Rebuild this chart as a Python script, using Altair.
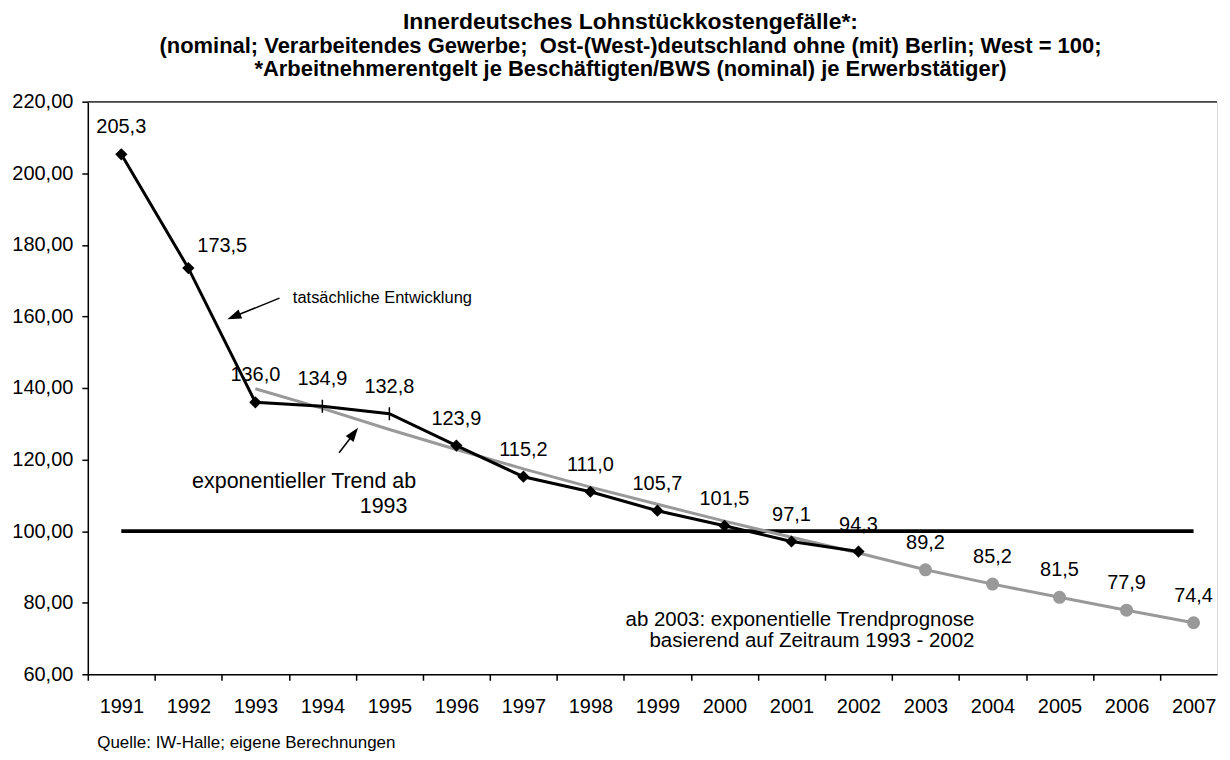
import altair as alt
import pandas as pd

FONT = "Liberation Sans"

# ---- data ----
years_actual = [1991, 1992, 1993, 1994, 1995, 1996, 1997, 1998, 1999, 2000, 2001, 2002]
values_actual = [205.3, 173.5, 136.0, 134.9, 132.8, 123.9, 115.2, 111.0, 105.7, 101.5, 97.1, 94.3]

years_trend = [1993, 1994, 1995, 1996, 1997, 1998, 1999, 2000, 2001, 2002, 2003, 2004, 2005, 2006, 2007]
values_trend = [139.8, 134.3, 128.4, 122.8, 117.4, 112.3, 107.5, 102.8, 98.3, 93.9, 89.2, 85.2, 81.5, 77.9, 74.4]

years_forecast = [2003, 2004, 2005, 2006, 2007]
values_forecast = [89.2, 85.2, 81.5, 77.9, 74.4]

years_ref = [1991, 2007]
values_ref = [100, 100]

tick_years = [1994, 1995]  # years drawn with a small vertical tick instead of a diamond

title_text = "Innerdeutsches Lohnstückkostengefälle*:"
subtitle_lines = [
    "(nominal; Verarbeitendes Gewerbe;\u00a0 Ost-(West-)deutschland ohne (mit) Berlin; West = 100;",
    "*Arbeitnehmerentgelt je Beschäftigten/BWS (nominal) je Erwerbstätiger)",
]
source_text = "Quelle: IW-Halle; eigene Berechnungen"

# annotations (year position, value position, text)
ann_small = pd.DataFrame({"year": [1993.56], "value": [165.1], "text": ["tatsächliche Entwicklung"]})
ann_trend = pd.DataFrame({"year": [1995.40, 1995.27], "value": [112.1, 105.2],
                          "text": ["exponentieller Trend ab", "1993"]})
ann_forecast = pd.DataFrame({"year": [2003.73, 2003.73], "value": [73.5, 67.5],
                             "text": ["ab 2003: exponentielle Trendprognose",
                                      "basierend auf Zeitraum 1993 - 2002"]})
arrows = pd.DataFrame({
    "x0": [1993.36, 1994.25], "y0": [165.1, 121.9],
    "x1": [1992.68, 1994.47], "y1": [159.96, 127.3],
    "angle": [248, 37],
})

# ---- tables ----
df_actual = pd.DataFrame({"year": years_actual, "value": values_actual})
df_trend = pd.DataFrame({"year": years_trend, "value": values_trend})
df_fc = pd.DataFrame({"year": years_forecast, "value": values_forecast})
df_ref = pd.DataFrame({"year": years_ref, "value": values_ref})

W, H = 1132, 574

tick_vals = [1990.5 + 0.5 * i for i in range(34)]
x_axis = alt.Axis(
    values=tick_vals,
    labelExpr="datum.value % 1 == 0 ? format(datum.value, 'd') : ''",
    tickOpacity={"condition": {"test": "datum.value % 1 == 0", "value": 0}, "value": 1},
    tickSize=6, tickColor="black", tickWidth=1.5,
    domainColor="black", domainWidth=1.5,
    labelFont=FONT, labelFontSize=20, labelColor="black", labelPadding=16,
    labelOverlap=False, labelFlush=False, grid=False,
    title=source_text, titleFont=FONT, titleFontSize=17, titleFontWeight="normal",
    titleColor="black", titleAnchor="start", titleAlign="left", titleBaseline="alphabetic",
    titleX=9, titleY=73,
)
y_axis = alt.Axis(
    values=[60, 80, 100, 120, 140, 160, 180, 200, 220],
    labelExpr="replace(format(datum.value, '.2f'), '.', ',')",
    tickSize=6, tickColor="black", tickWidth=1.5,
    domainColor="black", domainWidth=1.5,
    labelFont=FONT, labelFontSize=20, labelColor="black", labelPadding=9,
    grid=False, title=None,
)
x_scale = alt.Scale(domain=[1990.5, 2007.35], nice=False, zero=False)
y_scale = alt.Scale(domain=[60, 220], nice=False, zero=False)

X = alt.X("year:Q", scale=x_scale, axis=x_axis)
Y = alt.Y("value:Q", scale=y_scale, axis=y_axis)

label_expr = "replace(format(datum.value, '.1f'), '.', ',')"

top_border = alt.Chart(df_ref).mark_rule(color="#444444", strokeWidth=1.5).encode(y=alt.datum(220))

ref_line = alt.Chart(df_ref).mark_line(color="black", strokeWidth=4).encode(x=X, y=Y)

trend_line = alt.Chart(df_trend).mark_line(color="#999999", strokeWidth=3).encode(x=X, y=Y)

actual_line = alt.Chart(df_actual).mark_line(color="black", strokeWidth=3).encode(x=X, y=Y)

diamonds = alt.Chart(df_actual).transform_filter(
    ~alt.FieldOneOfPredicate(field="year", oneOf=tick_years)
).mark_point(shape="diamond", filled=True, color="black", size=150, opacity=1).encode(x=X, y=Y)

ticks = alt.Chart(df_actual).transform_filter(
    alt.FieldOneOfPredicate(field="year", oneOf=tick_years)
).mark_point(shape="M0,-1L0,1", filled=False, stroke="black", strokeWidth=1.5, size=170, opacity=1).encode(x=X, y=Y)

circles = alt.Chart(df_fc).mark_point(shape="circle", filled=True, color="#999999", size=170, opacity=1).encode(x=X, y=Y)

text_style = dict(font=FONT, fontSize=20, color="black", baseline="middle", align="center")

labels_actual = alt.Chart(df_actual).transform_filter(
    alt.datum.year != 1992
).transform_calculate(lbl=label_expr).mark_text(dy=-27, **text_style).encode(x=X, y=Y, text="lbl:N")

label_1992 = alt.Chart(df_actual).transform_filter(
    alt.datum.year == 1992
).transform_calculate(lbl=label_expr).mark_text(dx=34, dy=-22, **text_style).encode(x=X, y=Y, text="lbl:N")

labels_fc = alt.Chart(df_fc).transform_calculate(lbl=label_expr).mark_text(
    dy=-27, **text_style).encode(x=X, y=Y, text="lbl:N")

ann1 = alt.Chart(ann_small).mark_text(font=FONT, fontSize=16.5, color="black", align="left",
                                      baseline="middle").encode(x=X, y=Y, text="text:N")
ann2 = alt.Chart(ann_trend).mark_text(font=FONT, fontSize=21.5, color="black", align="right",
                                      baseline="alphabetic").encode(x=X, y=Y, text="text:N")
ann3 = alt.Chart(ann_forecast).mark_text(font=FONT, fontSize=20.5, color="black", align="right",
                                         baseline="alphabetic").encode(x=X, y=Y, text="text:N")

arrow_lines = alt.Chart(arrows).mark_rule(color="black", strokeWidth=1.5).encode(
    x=alt.X("x0:Q", scale=x_scale, axis=x_axis), x2="x1:Q",
    y=alt.Y("y0:Q", scale=y_scale, axis=y_axis), y2="y1:Q")
arrow_heads = alt.Chart(arrows).mark_point(shape="M0,-1L0.7,1L-0.7,1Z", filled=True, color="black",
                                           size=196, opacity=1).encode(
    x=alt.X("x1:Q", scale=x_scale, axis=x_axis),
    y=alt.Y("y1:Q", scale=y_scale, axis=y_axis),
    angle=alt.Angle("angle:Q", scale=None))

chart = alt.layer(
    top_border, ref_line, trend_line, actual_line, diamonds, ticks, circles,
    labels_actual, label_1992, labels_fc, ann1, ann2, ann3, arrow_lines, arrow_heads,
).properties(
    width=W, height=H,
    autosize=alt.AutoSizeParams(type="none"),
    padding={"left": 80, "top": 93, "right": 5, "bottom": 77},
    title=alt.TitleParams(
        text=title_text, subtitle=subtitle_lines,
        font=FONT, fontSize=23, fontWeight="bold", color="black",
        subtitleFont=FONT, subtitleFontSize=22, subtitleFontWeight="bold", subtitleColor="black",
        subtitlePadding=2, subtitleLineHeight=23,
        anchor="middle", dx=-22, offset=12,
    ),
).configure_view(stroke=None).configure(background="white")

chart.save("out.html", embed_options={"renderer": "svg", "actions": False})
